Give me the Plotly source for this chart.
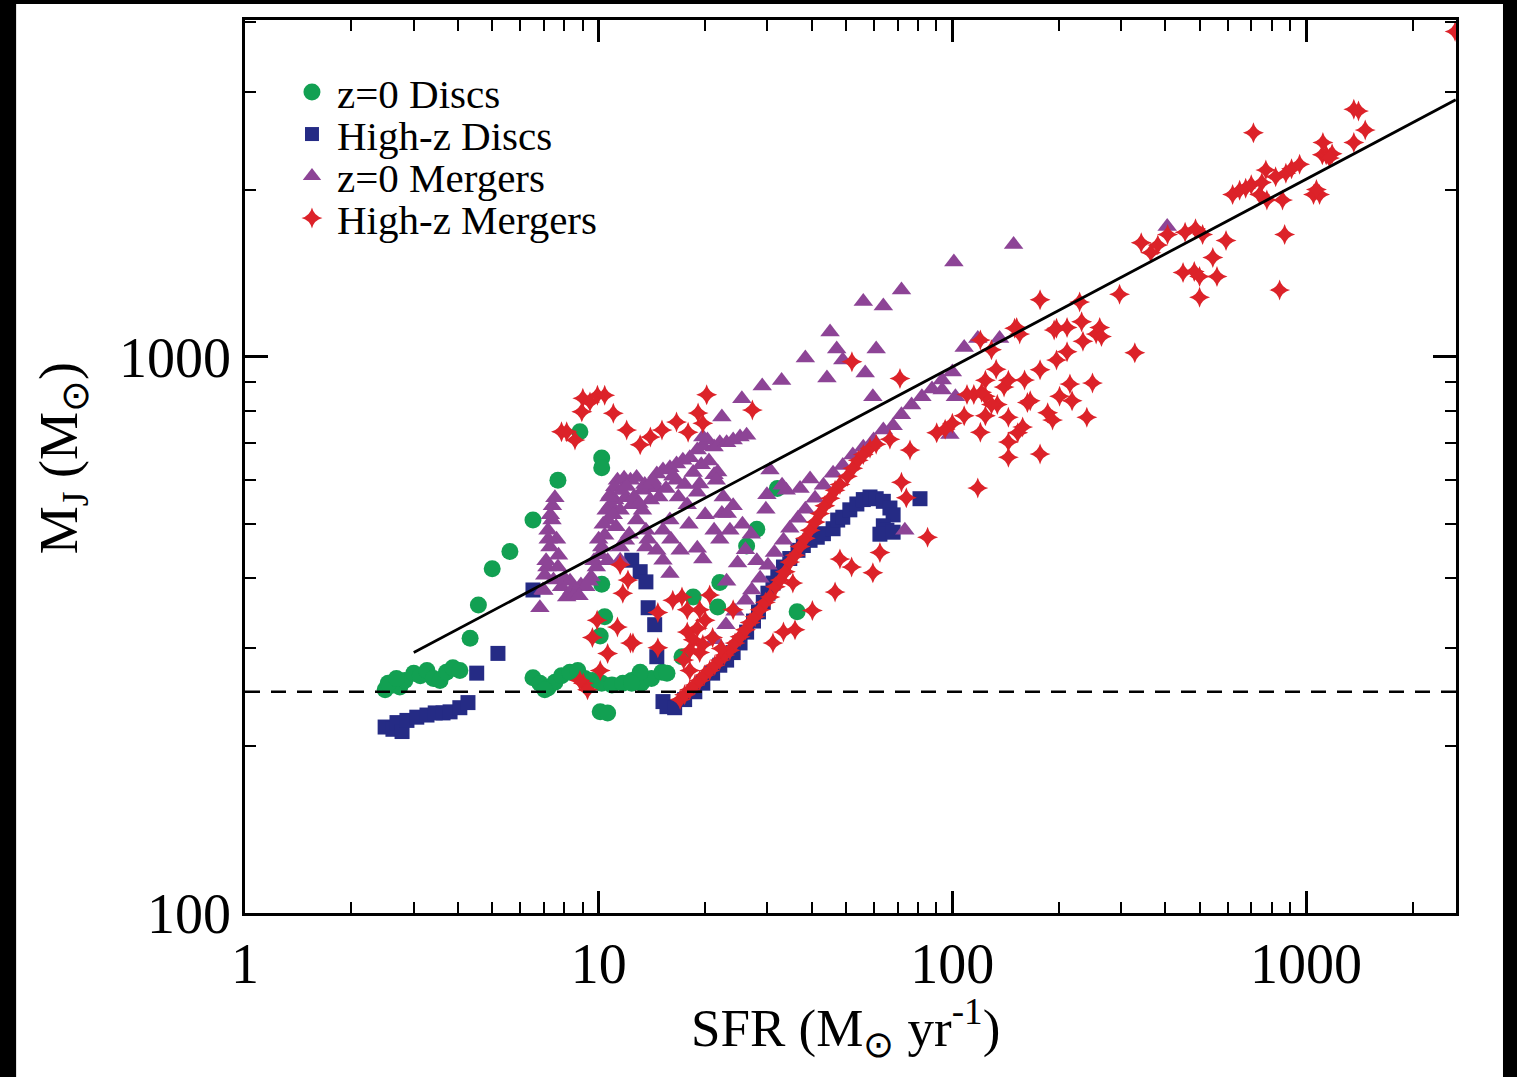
import plotly.graph_objects as go

# ---- z=0 Discs ----
disc0_sfr = [2.49, 2.62, 2.74, 2.83, 3.0, 3.13, 3.27, 3.41, 3.56, 3.71, 3.87, 4.05, 2.54, 2.68,
             4.33, 4.57, 5.0, 5.61, 6.52, 7.67, 8.85, 10.2, 10.2,
             6.52, 6.82, 7.19, 7.52, 7.85, 8.29, 8.73, 9.14, 9.6, 10.2, 10.9, 11.7, 12.4, 13.2,
             14.1, 15.1, 7.04,
             10.1, 10.6, 10.2, 10.4, 10.1,
             32.0, 28.0, 26.2, 22.0, 18.5, 21.7, 36.4, 17.2, 15.6, 13.1, 12.4]
disc0_mj = [252, 257, 255, 262, 270, 267, 273, 264, 262, 271, 276, 273, 259, 264,
            312, 358, 416, 447, 509, 600, 734, 658, 632,
            265, 259, 254, 260, 267, 271, 273, 264, 262, 259, 257, 259, 262, 259,
            264, 271, 252,
            230, 229, 390, 341, 315,
            580, 490, 457, 393, 370, 355, 348, 289, 270, 271, 259]

# ---- High-z Discs ----
dischz_sfr = [2.49, 2.62, 2.69, 2.78, 2.87, 3.06, 3.27, 3.45, 3.63, 3.80, 4.05, 4.27,
              4.52, 5.19, 6.52,
              12.4, 13.1, 13.6, 13.8, 14.4, 14.6,
              15.2, 15.6, 16.4, 17.5, 18.7, 19.7, 21.0, 22.0, 23.0, 24.0, 25.1, 26.2, 27.4,
              28.3, 29.2, 30.1, 31.1, 32.1, 33.3, 34.7, 36.6, 37.9, 39.6, 41.5, 43.2, 46.0,
              47.4, 49.0, 51.3, 53.7, 56.0, 58.5, 60.9, 63.8, 66.6, 68.0, 63.8, 65.3, 62.4,
              68.0, 81.0]
dischz_mj = [216, 214, 220, 212, 222, 225, 227, 229, 229, 230, 234, 239,
             270, 293, 381,
             431, 411, 394, 354, 330, 289,
             240, 235, 234, 242, 250, 259, 270, 279, 285, 294, 306, 320, 335,
             348, 362, 376, 392, 406, 419, 434, 449, 458, 468, 474, 481, 491,
             509, 515, 531, 544, 554, 560, 556, 550, 535, 520, 497, 488, 480,
             484, 556]

# ---- z=0 Mergers ----
mrg0_sfr = [6.82, 6.96, 7.14, 7.28, 7.38, 7.52, 7.19, 7.04, 7.45, 7.67, 7.85, 8.12, 8.40,
            8.62, 8.91, 9.2, 9.52, 9.85, 10.1, 10.2, 10.4, 10.6, 10.8, 10.8, 11.1, 11.3,
            11.8, 12.3, 12.8, 13.3, 14.0, 14.6, 15.2, 15.9, 16.6, 17.3, 18.1, 19.0, 19.7,
            20.3, 21.2, 22.0, 23.0, 24.0, 25.1, 26.2,
            11.1, 11.5, 11.9, 12.4, 12.8, 13.3, 13.6, 14.0, 14.6, 15.2, 15.9, 16.6, 17.0,
            17.8, 19.0, 19.0, 19.7, 19.3, 21.2, 21.2, 21.7, 22.3, 23.1, 23.5, 23.0, 24.7,
            29.7, 30.5, 33.9, 37.1, 39.6, 15.9, 14.6, 13.6, 15.2, 11.9, 11.5,
            19.7, 22.3, 25.4, 29.0, 32.9, 38.4, 44.2, 45.1, 47.1, 49.0, 56.7, 60.9, 59.6,
            56.0, 63.8, 71.8, 101, 149,
            21.3, 22.9, 24.3, 26.0, 27.1, 28.6, 30.1, 31.4, 33.3, 34.7, 36.6, 38.4, 40.9,
            43.2, 46.0, 49.0, 52.3, 56.0, 59.9, 63.8, 68.0, 71.8, 76.7, 82.0, 87.6, 93.6,
            100, 108, 118, 136, 93.6, 102, 98.4,
            405, 73.4, 29.9, 33.0,
            7.0, 7.1, 7.2, 7.3, 7.4, 7.6, 7.7, 8.0, 8.3, 8.8, 9.4, 9.7, 10.0, 10.3, 10.5,
            10.7, 11.0, 11.2, 11.6, 12.0, 12.6, 13.0, 13.5, 14.2, 14.8, 15.5, 16.2, 16.8,
            17.5, 18.5, 19.5, 20.5, 21.5, 22.5, 24.0, 25.5, 27.0, 12.2, 13.8, 16.0, 18.0,
            20.0, 22.0, 26.0, 28.0, 11.5, 10.6]
mrg0_mj = [354, 381, 419, 455, 509, 558, 488, 405, 397, 419, 386, 370, 381,
           376, 389, 386, 402, 419, 441, 455, 478, 509, 542, 566, 584, 600,
           605, 600, 607, 576, 582, 616, 626, 632, 642, 652, 659, 680, 692,
           709, 689, 701, 701, 709, 718, 723,
           553, 530, 558, 542, 509, 530, 488, 553, 582, 488, 509, 600, 449,
           542, 571, 453, 433, 591, 488, 614, 621, 523, 523, 488, 395, 426,
           532, 626, 576, 580, 603, 408, 449, 455, 431, 468, 431,
           718, 780, 841, 887, 907, 996, 917, 1109, 1034, 988, 936, 1034, 848,
           1258, 1235, 1319, 1482, 1593,
           310, 330, 349, 365, 381, 400, 422, 445, 468, 492, 513, 532, 557,
           588, 618, 638, 666, 688, 709, 739, 752, 787, 820, 848, 876, 909,
           940, 1040, 1080, 1080, 872, 848, 725,
           1717, 488, 565, 588,
           380, 430, 470, 520, 540, 470, 440, 400, 395, 372, 395, 430, 470, 500, 530,
           560, 520, 495, 575, 585, 560, 545, 590, 600, 560, 580, 610, 560,
           590, 620, 640, 650, 600, 560, 540, 500, 480, 480, 470, 470, 500,
           520, 470, 450, 430, 455, 430]

# ---- High-z Mergers ----
mrghz_sfr = [7.85, 8.12, 8.57, 9.02, 8.96, 9.45, 9.92, 10.4, 11.0, 12.0, 13.1, 14.0, 15.1,
             16.6, 17.9, 19.1, 20.2, 19.7, 27.2, 52.0, 71.1, 75.9,
             11.5, 12.1, 11.7, 9.9, 11.3, 9.6, 12.5, 10.6, 10.1, 9.05, 8.85, 9.3, 14.7,
             16.2, 17.2, 17.8, 19.3, 20.0, 20.6, 24.0, 12.3, 14.7,
             17.0, 17.5, 18.1, 18.7, 19.3, 19.9, 20.6, 21.3, 22.0, 22.7, 23.5, 24.3, 25.1,
             26.0, 26.8, 27.7, 28.6, 29.6, 30.5, 31.6, 32.6, 33.7, 34.7, 35.9, 37.1, 38.4,
             39.6, 41.0, 42.2, 43.6, 45.1, 46.6, 48.1, 50.5, 52.3, 54.2, 56.0, 58.5, 60.9,
             66.6,
             17.8, 18.5, 19.0, 19.7, 21.0, 22.2, 19.3, 18.1, 17.4, 18.1,
             35.4, 40.2, 31.1, 33.3, 35.9, 46.6, 48.1, 51.9, 59.6, 62.4, 71.8, 74.1, 85.1,
             118,
             90.3, 95.4, 100, 108, 120, 124, 115, 124, 134, 124, 133, 129, 140, 144, 144,
             144, 144, 153, 158, 163, 152, 160, 177, 177, 177, 186, 192, 197, 197, 201,
             211, 211, 218, 215, 229, 232, 234, 240, 249, 255, 261, 264, 297, 328, 150,
             155, 194, 166, 129, 121, 110, 120,
             342, 364, 381, 406, 455, 487, 510, 449, 483, 500, 560, 545, 500, 594, 620,
             649, 675, 700, 750, 770, 820, 877, 910, 959, 739, 775, 858, 870, 842, 710,
             1050, 1092, 1070, 1112, 1140, 1185, 1165, 1116, 1365, 1470, 1365, 1407, 2640]
mrghz_mj = [734, 734, 709, 843, 797, 830, 853, 853, 792, 739, 695, 718, 739,
            764, 732, 793, 855, 760, 803, 980, 915, 680,
            423, 397, 376, 336, 327, 313, 306, 293, 273, 259, 262, 252, 347,
            365, 370, 351, 351, 336, 373, 351, 306, 300,
            242, 247, 252, 257, 262, 268, 273, 279, 285, 291, 297, 306, 314,
            323, 333, 341, 351, 362, 370, 386, 397, 411, 428, 440, 456, 472,
            488, 505, 523, 540, 557, 576, 590, 610, 631, 652, 668, 685, 697,
            711,
            320, 310, 325, 304, 313, 299, 294, 297, 285, 273,
            392, 350, 306, 320, 323, 378, 433, 419, 409, 445, 595, 558, 474,
            581,
            731, 741, 760, 784, 732, 784, 856, 850, 821, 908, 950, 1030, 883, 908, 779,
            703, 660, 731, 748, 828, 1130, 909, 948, 669, 1267, 794, 770, 988, 1126, 850,
            1130, 1022, 834, 894, 1255, 1157, 1067, 779, 898, 1100, 1130, 1088, 1296, 1018, 1126,
            1100, 1118, 834, 821, 864, 856, 1073,
            1605, 1540, 1590, 1660, 1676, 1700, 1660, 1418, 1424, 1396, 1396, 1510, 1280, 1620, 1960,
            1994, 2010, 2040, 2060, 2170, 2110, 2140, 2180, 2220, 1960, 1915, 1915, 1660, 1319, 2530,
            1960, 1960, 2000, 2310, 2310, 2320, 2280, 2430, 2430, 2560, 2790, 2770, 3850]

# Power-law relation end points and the threshold mass
fit_sfr = [3.0, 2650]
fit_mj = [294, 2900]
threshold_mj = 250

x_tickvals = [1, 10, 100, 1000]
x_ticktext = ["1", "10", "100", "1000"]
y_tickvals = [100, 1000]
y_ticktext = ["100", "1000"]

SERIF = "Liberation Serif, Times New Roman, serif"

series = [
    ("z=0 Discs", disc0_sfr, disc0_mj, "circle", "#12a052", 17),
    ("High-z Discs", dischz_sfr, dischz_mj, "square", "#252b85", 15),
    ("z=0 Mergers", mrg0_sfr, mrg0_mj, "triangle-up", "#8d4496", 17),
    ("High-z Mergers", mrghz_sfr, mrghz_mj, "star-diamond", "#dc2229", 15),
]

fig = go.Figure()
for name, xs, ys, sym, col, size in series:
    fig.add_trace(go.Scatter(
        x=xs, y=ys, mode="markers", name=name, showlegend=False,
        marker=dict(symbol=sym, color=col, size=size, line=dict(width=0)),
    ))

fig.add_trace(go.Scatter(
    x=fit_sfr, y=fit_mj, mode="lines", showlegend=False,
    line=dict(color="black", width=2.8),
))

# Key in the upper-left corner: symbols on an overlay axis in plot-fraction units
key_x = 0.0553
key_text_x = 0.0745
key_y = [0.9194, 0.8723, 0.8253, 0.7783]
key_sizes = [17, 14, 16, 15]
for (name, _, _, sym, col, _), ky, ks in zip(series, key_y, key_sizes):
    fig.add_trace(go.Scatter(
        x=[key_x], y=[ky], xaxis="x2", yaxis="y2", mode="markers",
        showlegend=False, hoverinfo="skip",
        marker=dict(symbol=sym, color=col, size=ks, line=dict(width=0)),
    ))
    fig.add_annotation(xref="paper", yref="paper", x=key_text_x, y=ky - 0.002,
                       text=name, showarrow=False, xanchor="left", yanchor="middle",
                       font=dict(family=SERIF, size=41, color="black"))

# white page behind the axes, inside a dark frame
fig.add_shape(type="rect", xref="paper", yref="paper",
              x0=-0.189, x1=1.0388, y0=-0.19, y1=1.0179,
              fillcolor="white", line=dict(width=0), layer="below")
fig.add_shape(type="line", xref="paper", yref="y",
              x0=0, x1=1, y0=threshold_mj, y1=threshold_mj,
              line=dict(color="black", width=2.5, dash="15px,11px"))

axis_common = dict(
    type="log", showgrid=False, zeroline=False,
    showline=True, linecolor="black", linewidth=2.5, mirror="allticks",
    ticks="inside", tickcolor="black", tickwidth=2.5,
    tickfont=dict(family=SERIF, size=56, color="black"),
    tickmode="array",
    minor=dict(ticks="inside", ticklen=11, tickwidth=2, tickcolor="black",
               dtick="D1", showgrid=False),
)

fig.update_xaxes(**axis_common, range=[0, 3.424], tickvals=x_tickvals,
                 ticktext=x_ticktext, ticklen=22, ticklabelstandoff=0)
fig.update_yaxes(**axis_common, range=[2, 3.606], tickvals=y_tickvals,
                 ticktext=y_ticktext, ticklen=23, ticklabelstandoff=0)

fig.add_annotation(xref="paper", yref="paper", x=0.4955, y=-0.129,
                   text="SFR (M<sub>⊙</sub> yr<sup>-1</sup>)", showarrow=False,
                   xanchor="center", yanchor="middle",
                   font=dict(family=SERIF, size=53, color="black"))
fig.add_annotation(xref="paper", yref="paper", x=-0.151, y=0.5095,
                   text="M<sub>J</sub> (M<sub>⊙</sub>)", showarrow=False,
                   textangle=-90, xanchor="center", yanchor="middle",
                   font=dict(family=SERIF, size=54, color="black"))

fig.update_layout(
    width=1517, height=1077,
    margin=dict(l=245, r=61, t=20, b=164),
    paper_bgcolor="black", plot_bgcolor="white",
    showlegend=False,
    xaxis2=dict(overlaying="x", range=[0, 1], visible=False, anchor="y2"),
    yaxis2=dict(overlaying="y", range=[0, 1], visible=False, anchor="x2"),
)

fig.write_html("out.html")
